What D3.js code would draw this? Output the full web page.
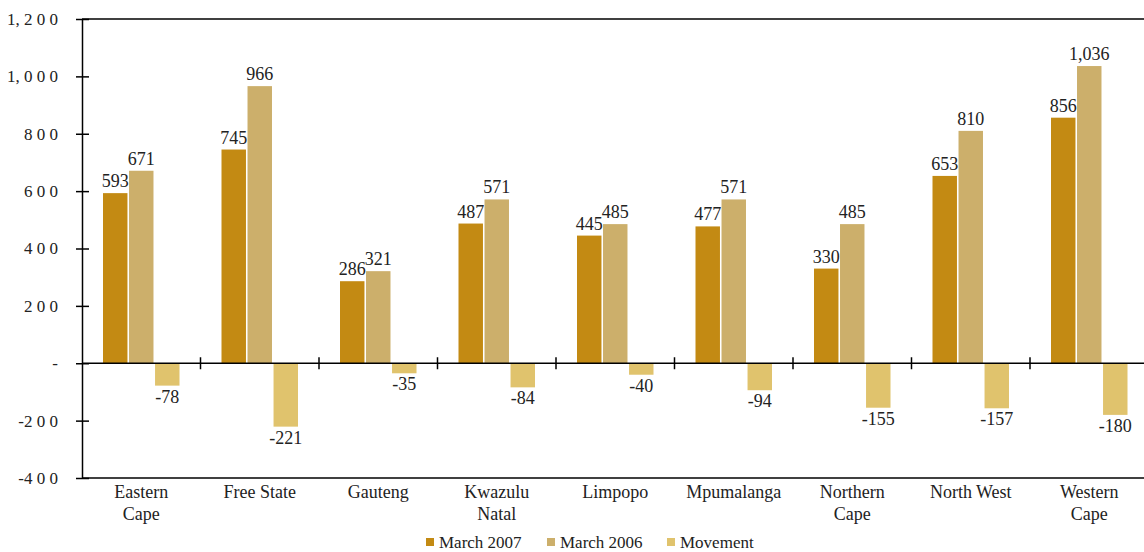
<!DOCTYPE html>
<html>
<head>
<meta charset="utf-8">
<script src="https://cdn.jsdelivr.net/npm/d3@7"></script>
<style>
  html, body { margin: 0; padding: 0; background: #fff; }
  svg { display: block; }
  svg text { font-family: "Liberation Serif", "DejaVu Serif", serif !important; fill: #222; }
</style>
</head>
<body>
<svg id="chart" width="1144" height="552"></svg>
<script>
// Provinces along the x axis
const categories = [
  ["Eastern", "Cape"], ["Free State"], ["Gauteng"], ["Kwazulu", "Natal"],
  ["Limpopo"], ["Mpumalanga"], ["Northern", "Cape"], ["North West"], ["Western", "Cape"]
];
const seriesNames = ["March 2007", "March 2006", "Movement"];
const march2007 = [593, 745, 286, 487, 445, 477, 330, 653, 856];
const march2006 = [671, 966, 321, 571, 485, 571, 485, 810, 1036];
const movement  = [-78, -221, -35, -84, -40, -94, -155, -157, -180];
const yTicks = [-400, -200, 0, 200, 400, 600, 800, 1000, 1200];
const yTickLabels = ["-4 0 0", "-2 0 0", "-", "2 0 0", "4 0 0", "6 0 0", "8 0 0", "1, 0 0 0", "1, 2 0 0"];

const colors = ["#C38A13", "#CCAF6B", "#E0C36D"];
const series = [march2007, march2006, movement];

const svg = d3.select("#chart");
const plotLeft = 82, plotTop = 19, plotBottom = 478, bandW = 118.5;
const catNames = categories.map(c => c.join(" "));

const x = d3.scaleBand().domain(catNames).range([plotLeft, plotLeft + bandW * catNames.length]).paddingInner(0).paddingOuter(0);
const y = d3.scaleLinear().domain([-400, 1200]).range([plotBottom, plotTop]);
const inner = d3.scaleBand().domain(seriesNames).range([21, bandW - 21]).paddingInner(0.06);

// plain hyphen for negatives, comma for thousands
const fmt = d3.formatLocale({ decimal: ".", thousands: ",", grouping: [3], currency: ["", ""], minus: "-" }).format(",");
const serif = '"Liberation Serif", "DejaVu Serif", serif';

// frame: top and bottom rules, left axis
svg.append("line").attr("x1", plotLeft).attr("x2", 1144).attr("y1", y(1200)).attr("y2", y(1200))
  .attr("stroke", "#000").attr("stroke-width", 1.5);
svg.append("line").attr("x1", plotLeft).attr("x2", 1144).attr("y1", y(-400)).attr("y2", y(-400))
  .attr("stroke", "#000").attr("stroke-width", 1.5);

const yAxis = svg.append("g").attr("transform", `translate(${plotLeft},0)`)
  .call(d3.axisLeft(y).tickValues(yTicks).tickSize(0).tickPadding(24)
    .tickFormat((d, i) => yTickLabels[i]));
yAxis.attr("font-family", serif).attr("font-size", 17);
yAxis.select(".domain").attr("stroke", "#000").attr("stroke-width", 1.5);
yAxis.selectAll("text").attr("fill", "#222");
yAxis.selectAll(".tick").append("line").attr("x1", -6).attr("x2", 7)
  .attr("stroke", "#000").attr("stroke-width", 1.5);

// bars with value labels
catNames.forEach((c, i) => {
  const g = svg.append("g").attr("transform", `translate(${x(c)},0)`);
  series.forEach((s, k) => {
    const v = s[i];
    const bx = inner(seriesNames[k]);
    g.append("rect")
      .attr("x", bx).attr("width", inner.bandwidth())
      .attr("y", v >= 0 ? y(v) : y(0))
      .attr("height", Math.abs(y(v) - y(0)))
      .attr("fill", colors[k]);
    g.append("text")
      .attr("x", bx + inner.bandwidth() / 2)
      .attr("y", v >= 0 ? y(v) - 6 : y(v) + 17)
      .attr("text-anchor", "middle")
      .attr("font-family", serif)
      .attr("font-size", 18)
      .text(fmt(v));
  });
});

// zero line with category ticks
svg.append("line").attr("x1", plotLeft).attr("x2", 1144).attr("y1", y(0)).attr("y2", y(0))
  .attr("stroke", "#000").attr("stroke-width", 1.5);
catNames.forEach((c, i) => {
  if (i === 0) return;
  svg.append("line").attr("x1", x(c)).attr("x2", x(c)).attr("y1", y(0) - 6).attr("y2", y(0) + 6)
    .attr("stroke", "#000").attr("stroke-width", 1.5);
});

// category labels
categories.forEach((lines, i) => {
  const cx = x(catNames[i]) + bandW / 2;
  const t = svg.append("text")
    .attr("x", cx)
    .attr("y", 498)
    .attr("text-anchor", "middle")
    .attr("font-family", serif)
    .attr("font-size", 18);
  lines.forEach((ln, j) => t.append("tspan")
    .attr("x", cx)
    .attr("dy", j === 0 ? 0 : 22).text(ln));
});

// legend
const legendX = [426, 547, 667];
seriesNames.forEach((n, k) => {
  svg.append("rect").attr("x", legendX[k]).attr("y", 538).attr("width", 8).attr("height", 8)
    .attr("fill", colors[k]);
  svg.append("text").attr("x", legendX[k] + 13).attr("y", 548)
    .attr("font-family", serif).attr("font-size", 17).text(n);
});
</script>
</body>
</html>
